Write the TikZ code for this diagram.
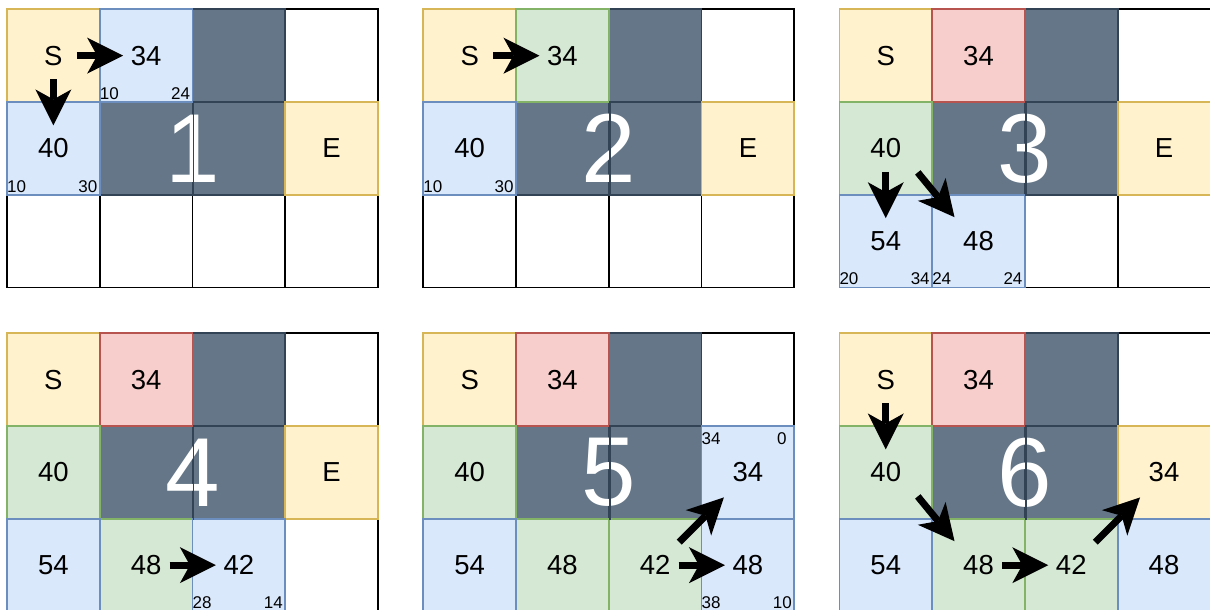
\documentclass[tikz,border=0pt]{standalone}
\usepackage{fontspec}
\setmainfont{Liberation Sans}
\usetikzlibrary{arrows.meta}
\definecolor{ylfill}{HTML}{FFF2CC}\definecolor{ylline}{HTML}{D6B656}
\definecolor{blfill}{HTML}{DAE8FC}\definecolor{blline}{HTML}{6C8EBF}
\definecolor{grfill}{HTML}{D5E8D4}\definecolor{grline}{HTML}{82B366}
\definecolor{rdfill}{HTML}{F8CECC}\definecolor{rdline}{HTML}{B85450}
\definecolor{dkfill}{HTML}{647687}\definecolor{dkline}{HTML}{314354}
\newcommand\C[5]{\node[#2] (#1) at ({92.75*(#4+0.5)},{92.75*(#3+0.5)}) {#5};}
\tikzset{
  cell/.style={rectangle, minimum width=92.75bp, minimum height=92.75bp, inner sep=0pt,
    line width=1.8bp, text=black, font=\fontsize{27.5bp}{30bp}\selectfont},
  wc/.style={cell, draw=black, fill=white},
  dc/.style={cell, draw=dkline, fill=dkfill},
  yc/.style={cell, draw=ylline, fill=ylfill},
  bc/.style={cell, draw=blline, fill=blfill},
  gc/.style={cell, draw=grline, fill=grfill},
  rc/.style={cell, draw=rdline, fill=rdfill},
  dl/.style={draw=dkline, line width=1.8bp},
  sm/.style={inner sep=0pt, text=black, font=\fontsize{17bp}{20bp}\selectfont},
  big/.style={inner sep=0pt, text=white, font=\fontsize{98bp}{100bp}\selectfont},
  arr/.style={line width=7bp, draw=black, -{Stealth[length=36bp,width=36bp,inset=10bp,line width=0pt]}},
  hv/.style={arr, shorten <=23.5bp, shorten >=23bp}
}
\begin{document}
\begin{tikzpicture}[x=1bp,y=-1bp]
\useasboundingbox (0,0) rectangle (1210,610);
\clip (0,0) rectangle (1210,610);
\fill[white] (0,0) rectangle (1210,610);
% ---------- grid 1
\begin{scope}[shift={(7,9.3)}]
\C{g1r0c3}{wc}{0}{3}{}
\C{g1r2c0}{wc}{2}{0}{}
\C{g1r2c1}{wc}{2}{1}{}
\C{g1r2c2}{wc}{2}{2}{}
\C{g1r2c3}{wc}{2}{3}{}
\C{g1r0c2}{dc}{0}{2}{}
\C{g1r1c1}{dc}{1}{1}{}
\C{g1r1c2}{dc}{1}{2}{}
\C{g1r0c0}{yc}{0}{0}{S}
\C{g1r1c3}{yc}{1}{3}{E}
\C{g1r0c1}{bc}{0}{1}{34}
\C{g1r1c0}{bc}{1}{0}{40}
\node[big] (g1n) at (185.5,139) {1};
\draw[dl] (g1r1c1.north east) -- (g1r1c1.south east);
\node[sm,anchor=base west] (g1a) at ([shift={(0.8,-3.5)}]g1r0c1.south west) {10};
\node[sm,anchor=base east] (g1b) at ([shift={(-3.2,-3.5)}]g1r0c1.south east) {24};
\node[sm,anchor=base west] (g1c) at ([shift={(0.8,-3.5)}]g1r1c0.south west) {10};
\node[sm,anchor=base east] (g1d) at ([shift={(-3.2,-3.5)}]g1r1c0.south east) {30};
\draw[hv] (g1r0c0.center) -- (g1r0c1.center);
\draw[hv] (g1r0c0.center) -- (g1r1c0.center);
\end{scope}
% ---------- grid 2
\begin{scope}[shift={(423.3,9.3)}]
\C{g2r0c3}{wc}{0}{3}{}
\C{g2r2c0}{wc}{2}{0}{}
\C{g2r2c1}{wc}{2}{1}{}
\C{g2r2c2}{wc}{2}{2}{}
\C{g2r2c3}{wc}{2}{3}{}
\C{g2r0c2}{dc}{0}{2}{}
\C{g2r1c1}{dc}{1}{1}{}
\C{g2r1c2}{dc}{1}{2}{}
\C{g2r0c0}{yc}{0}{0}{S}
\C{g2r1c3}{yc}{1}{3}{E}
\C{g2r0c1}{gc}{0}{1}{34}
\C{g2r1c0}{bc}{1}{0}{40}
\node[big] (g2n) at (185.5,139) {2};
\draw[dl] (g2r1c1.north east) -- (g2r1c1.south east);
\node[sm,anchor=base west] (g2c) at ([shift={(0.8,-3.5)}]g2r1c0.south west) {10};
\node[sm,anchor=base east] (g2d) at ([shift={(-3.2,-3.5)}]g2r1c0.south east) {30};
\draw[hv] (g2r0c0.center) -- (g2r0c1.center);
\end{scope}
% ---------- grid 3
\begin{scope}[shift={(839.4,9.3)}]
\C{g3r0c3}{wc}{0}{3}{}
\C{g3r2c2}{wc}{2}{2}{}
\C{g3r2c3}{wc}{2}{3}{}
\C{g3r0c2}{dc}{0}{2}{}
\C{g3r1c1}{dc}{1}{1}{}
\C{g3r1c2}{dc}{1}{2}{}
\C{g3r0c0}{yc}{0}{0}{S}
\C{g3r1c3}{yc}{1}{3}{E}
\C{g3r0c1}{rc}{0}{1}{34}
\C{g3r1c0}{gc}{1}{0}{40}
\C{g3r2c0}{bc}{2}{0}{54}
\C{g3r2c1}{bc}{2}{1}{48}
\node[big] (g3n) at (185.5,139) {3};
\draw[dl] (g3r1c1.north east) -- (g3r1c1.south east);
\node[sm,anchor=base west] (g3a) at ([shift={(0.8,-3.5)}]g3r2c0.south west) {20};
\node[sm,anchor=base east] (g3b) at ([shift={(-3.2,-3.5)}]g3r2c0.south east) {34};
\node[sm,anchor=base west] (g3c) at ([shift={(0.8,-3.5)}]g3r2c1.south west) {24};
\node[sm,anchor=base east] (g3d) at ([shift={(-3.2,-3.5)}]g3r2c1.south east) {24};
\draw[hv] (g3r1c0.center) -- (g3r2c0.center);
\draw[arr] ([shift={(32,24)}]g3r1c0.center) -- ([shift={(-24,-24)}]g3r2c1.center);
\end{scope}
% ---------- grid 4
\begin{scope}[shift={(7,333.3)}]
\C{g4r0c3}{wc}{0}{3}{}
\C{g4r2c3}{wc}{2}{3}{}
\C{g4r0c2}{dc}{0}{2}{}
\C{g4r1c1}{dc}{1}{1}{}
\C{g4r1c2}{dc}{1}{2}{}
\C{g4r0c0}{yc}{0}{0}{S}
\C{g4r1c3}{yc}{1}{3}{E}
\C{g4r0c1}{rc}{0}{1}{34}
\C{g4r1c0}{gc}{1}{0}{40}
\C{g4r2c1}{gc}{2}{1}{48}
\C{g4r2c0}{bc}{2}{0}{54}
\C{g4r2c2}{bc}{2}{2}{42}
\node[big] (g4n) at (185.5,139) {4};
\draw[dl] (g4r1c1.north east) -- (g4r1c1.south east);
\node[sm,anchor=base west] (g4a) at ([shift={(0.8,-3.8)}]g4r2c2.south west) {28};
\node[sm,anchor=base east] (g4b) at ([shift={(-3.2,-3.8)}]g4r2c2.south east) {14};
\draw[hv] (g4r2c1.center) -- (g4r2c2.center);
\end{scope}
% ---------- grid 5
\begin{scope}[shift={(423.3,333.3)}]
\C{g5r0c3}{wc}{0}{3}{}
\C{g5r0c2}{dc}{0}{2}{}
\C{g5r1c1}{dc}{1}{1}{}
\C{g5r1c2}{dc}{1}{2}{}
\C{g5r0c0}{yc}{0}{0}{S}
\C{g5r0c1}{rc}{0}{1}{34}
\C{g5r1c0}{gc}{1}{0}{40}
\C{g5r2c1}{gc}{2}{1}{48}
\C{g5r2c2}{gc}{2}{2}{42}
\C{g5r2c0}{bc}{2}{0}{54}
\C{g5r1c3}{bc}{1}{3}{34}
\C{g5r2c3}{bc}{2}{3}{48}
\node[big] (g5n) at (185.5,139) {5};
\draw[dl] (g5r1c1.north east) -- (g5r1c1.south east);
\node[sm,anchor=base west] (g5a) at ([shift={(0.8,19)}]g5r1c3.north west) {34};
\node[sm,anchor=base east] (g5b) at ([shift={(-8.5,19)}]g5r1c3.north east) {0};
\node[sm,anchor=base west] (g5c) at ([shift={(0.8,-3.8)}]g5r2c3.south west) {38};
\node[sm,anchor=base east] (g5d) at ([shift={(-3.2,-3.8)}]g5r2c3.south east) {10};
\draw[hv] (g5r2c2.center) -- (g5r2c3.center);
\draw[arr] ([shift={(24,-23)}]g5r2c2.center) -- ([shift={(-24,25)}]g5r1c3.center);
\end{scope}
% ---------- grid 6
\begin{scope}[shift={(839.4,333.3)}]
\C{g6r0c3}{wc}{0}{3}{}
\C{g6r0c2}{dc}{0}{2}{}
\C{g6r1c1}{dc}{1}{1}{}
\C{g6r1c2}{dc}{1}{2}{}
\C{g6r0c0}{yc}{0}{0}{S}
\C{g6r1c3}{yc}{1}{3}{34}
\C{g6r0c1}{rc}{0}{1}{34}
\C{g6r1c0}{gc}{1}{0}{40}
\C{g6r2c1}{gc}{2}{1}{48}
\C{g6r2c2}{gc}{2}{2}{42}
\C{g6r2c0}{bc}{2}{0}{54}
\C{g6r2c3}{bc}{2}{3}{48}
\node[big] (g6n) at (185.5,139) {6};
\draw[dl] (g6r1c1.north east) -- (g6r1c1.south east);
\draw[hv] (g6r0c0.center) -- (g6r1c0.center);
\draw[arr] ([shift={(32,24)}]g6r1c0.center) -- ([shift={(-24,-24)}]g6r2c1.center);
\draw[hv] (g6r2c1.center) -- (g6r2c2.center);
\draw[arr] ([shift={(24,-23)}]g6r2c2.center) -- ([shift={(-24,25)}]g6r1c3.center);
\end{scope}
\end{tikzpicture}
\end{document}
